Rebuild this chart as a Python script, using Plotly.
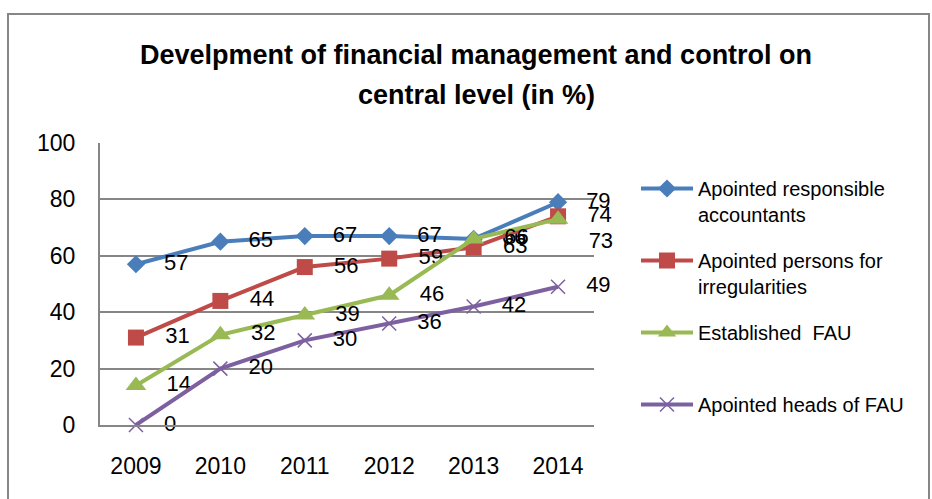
import plotly.graph_objects as go

years = ["2009", "2010", "2011", "2012", "2013", "2014"]
accountants = [57, 65, 67, 67, 66, 79]
irregularities = [31, 44, 56, 59, 63, 74]
established_fau = [14, 32, 39, 46, 66, 73]
heads_fau = [0, 20, 30, 36, 42, 49]

title_lines = ["Develpment of financial management and control on", "central level (in %)"]

series = [
    ("Apointed responsible<br>accountants", accountants, "#4A7EBB", dict(symbol="diamond", size=14)),
    ("Apointed persons for<br>irregularities", irregularities, "#BE4B48", dict(symbol="square", size=16)),
    ("Established  FAU<br> ", established_fau, "#98B954", dict(symbol="triangle-up", size=18)),
    ("Apointed heads of FAU", heads_fau, "#7D60A0", dict(symbol="x-thin-open", size=14)),
]

FONT = "Liberation Sans, Arial, sans-serif"

fig = go.Figure()
for i, (name, vals, color, mk) in enumerate(series):
    marker = dict(color=color, **mk)
    if mk["symbol"] == "x-thin-open":
        marker["line"] = dict(color=color, width=1.5)
    positions = ["middle right"] * len(vals)
    if mk["symbol"] == "triangle-up":
        positions[-1] = "bottom right"
    fig.add_trace(go.Scatter(
        x=years, y=vals, name=name, mode="lines+markers+text",
        line=dict(color=color, width=4),
        marker=marker,
        text=["   " + str(v) for v in vals],
        textposition=positions,
        textfont=dict(family=FONT, size=22, color="#000"),
        cliponaxis=False,
        legendgroup="g%d" % i,
    ))

W, H = 932, 499
L, R, T, B = 100, 338, 143, 74
pw, ph = W - L - R, H - T - B

annotations = []
for k, line in enumerate(title_lines):
    annotations.append(dict(
        text="<b>%s</b>" % line, xref="paper", yref="paper",
        x=(476 - L) / pw, y=(H - B - (55 + 40 * k)) / ph,
        xanchor="center", yanchor="middle", showarrow=False,
        font=dict(family=FONT, size=27, color="#000"),
    ))

fig.update_layout(
    width=W, height=H,
    margin=dict(l=L, r=R, t=T, b=B, autoexpand=False),
    paper_bgcolor="white", plot_bgcolor="white",
    showlegend=True,
    annotations=annotations,
    legend=dict(
        xref="container", yref="container",
        x=636 / W, xanchor="left", y=1 - 169 / H, yanchor="top",
        font=dict(family=FONT, size=20, color="#000"),
        valign="top", itemwidth=52, tracegroupgap=17, traceorder="grouped",
        bgcolor="rgba(0,0,0,0)", maxheight=480,
    ),
    xaxis=dict(
        type="category", showgrid=False, showline=True, linecolor="#868686", linewidth=2,
        tickfont=dict(family=FONT, size=23, color="#000"),
        ticks="outside", ticklen=19, tickcolor="rgba(0,0,0,0)",
    ),
    yaxis=dict(
        range=[0, 100], dtick=20, showgrid=True, gridcolor="#868686", gridwidth=1.5,
        showline=True, linecolor="#868686", linewidth=2, zeroline=False,
        tickfont=dict(family=FONT, size=23, color="#000"),
        ticks="outside", ticklen=18, tickcolor="rgba(0,0,0,0)",
    ),
    shapes=[dict(type="rect", xref="paper", yref="paper",
                 x0=(8 - L) / pw, x1=(929 - L) / pw,
                 y0=(H - B - 510) / ph, y1=(H - B - 14) / ph,
                 line=dict(color="#868686", width=2))],
)

fig.write_html(
    "out.html",
    config={"displayModeBar": False},
    post_script="document.body.style.margin='0';document.body.style.overflow='hidden';",
)
